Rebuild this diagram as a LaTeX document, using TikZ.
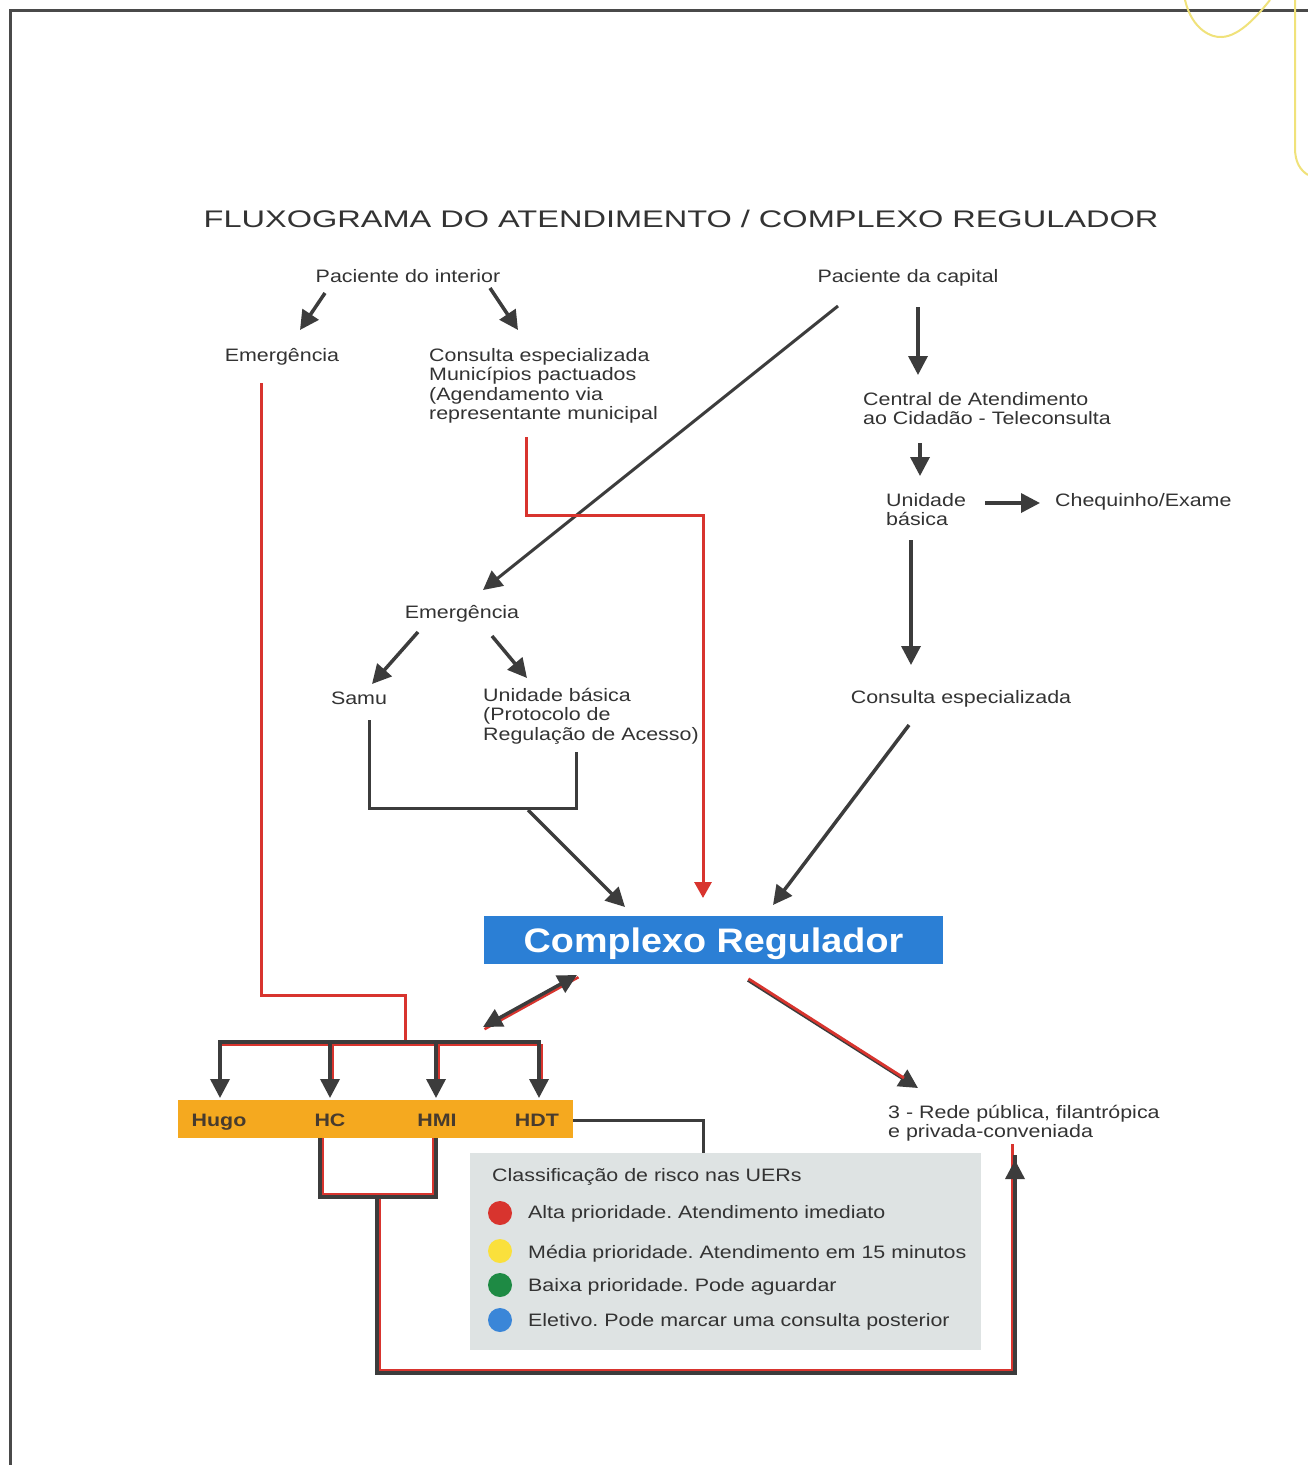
\documentclass[tikz,border=0pt]{standalone}
\usepackage{fontspec}
\setmainfont{Liberation Sans}[FakeStretch=1.19]
\newfontfamily\titlefont{Liberation Sans}[FakeStretch=1.355]
\newfontfamily\boxfont{Liberation Sans}[FakeStretch=1.11]
\usetikzlibrary{arrows.meta}
\definecolor{dk}{HTML}{3C3C3C}
\definecolor{rd}{HTML}{D8342E}
\definecolor{txtc}{HTML}{333333}
\definecolor{boxblue}{HTML}{2B7FD5}
\definecolor{orng}{HTML}{F5A91F}
\definecolor{lgray}{HTML}{DEE3E3}
\definecolor{ylw}{HTML}{F0E27A}
\definecolor{frm}{HTML}{4A4A4A}
\frenchspacing
\begin{document}
\begin{tikzpicture}[x=1pt,y=-1pt,
  txt/.style={inner sep=0pt, text=txtc, font=\fontsize{18}{19.5}\selectfont},
  mtxt/.style={txt, align=left, anchor=north west},
  arr/.style={draw=dk, line width=3.5pt, -{Triangle[length=19pt,width=19pt]}},
  dkline/.style={draw=dk, line width=3.5pt},
  rdline/.style={draw=rd, line width=3pt},
  rdarr/.style={draw=rd, line width=3pt, -{Triangle[length=16pt,width=17pt]}},
  hosp/.style={inner sep=0pt, text=txtc!90!orange, font=\fontsize{18}{20}\selectfont\bfseries, anchor=base},
  dot/.style={circle, inner sep=0pt, minimum size=24pt}
]
\useasboundingbox (0,0) rectangle (1308,1465);
\fill[white] (0,0) rectangle (1308,1465);
% frame
\draw[frm, line width=3pt] (10,1465) -- (10,10) -- (1308,10);
% yellow decoration
\draw[ylw, line width=2pt] (1185,0) .. controls (1192,30) and (1212,38) .. (1222,37)
  .. controls (1240,36) and (1258,15) .. (1270,0);
\draw[ylw, line width=2pt] (1295,0) -- (1295,148) .. controls (1295,162) and (1300,170) .. (1308,175);

% title
\node[txt, anchor=base, font=\titlefont\fontsize{24}{28}\selectfont] (title) at (681,227)
  {FLUXOGRAMA DO ATENDIMENTO / COMPLEXO REGULADOR};

% texts
\node[txt, anchor=base] (pint) at (408,282) {Paciente do interior};
\node[txt, anchor=base] (pcap) at (908,282) {Paciente da capital};
\node[txt, anchor=base] (emg1) at (282,361) {Emergência};
\node[mtxt] (cons1) at (429,348) {Consulta especializada\\Municípios pactuados\\(Agendamento via\\representante municipal};
\node[mtxt] (central) at (863,392) {Central de Atendimento\\ao Cidadão - Teleconsulta};
\node[mtxt] (unib) at (886,493) {Unidade\\básica};
\node[txt, anchor=base west] (cheq) at (1055,506) {Chequinho/Exame};
\node[txt, anchor=base] (emg2) at (462,618) {Emergência};
\node[txt, anchor=base] (samu) at (359,704) {Samu};
\node[mtxt] (unib2) at (483,688) {Unidade básica\\(Protocolo de\\Regulação de Acesso)};
\node[txt, anchor=base] (cons2) at (961,703) {Consulta especializada};
\node[mtxt] (rede) at (888,1105) {3 - Rede pública, filantrópica\\e privada-conveniada};

% complexo regulador box
\node[fill=boxblue, inner sep=0pt, minimum width=459pt, minimum height=48pt, anchor=north west] (crbox) at (484,916) {};
\node[inner sep=0pt, anchor=base, text=white, font=\boxfont\fontsize{34}{36}\selectfont\bfseries] (crtext) at (713.5,952) {Complexo Regulador};

% orange bar
\node[fill=orng, inner sep=0pt, minimum width=395pt, minimum height=38pt, anchor=north west] (bar) at (178,1100) {};
\node[hosp] (hugo) at (219,1126) {Hugo};
\node[hosp] (hc) at (330,1126) {HC};
\node[hosp] (hmi) at (437,1126) {HMI};
\node[hosp] (hdt) at (537,1126) {HDT};

% legend
\node[fill=lgray, inner sep=0pt, minimum width=511pt, minimum height=197pt, anchor=north west] (leg) at (470,1153) {};
\node[txt, anchor=base west] (legt) at (492,1181) {Classificação de risco nas UERs};
\node[dot, fill=rd] (d1) at (500,1213) {};
\node[dot, fill={rgb,255:red,250;green,224;blue,60}] (d2) at (500,1251) {};
\node[dot, fill={rgb,255:red,30;green,138;blue,68}] (d3) at (500,1285) {};
\node[dot, fill={rgb,255:red,58;green,134;blue,216}] (d4) at (500,1320) {};
\node[txt, anchor=base west] (l1) at (528,1218) {Alta prioridade. Atendimento imediato};
\node[txt, anchor=base west] (l2) at (528,1258) {Média prioridade. Atendimento em 15 minutos};
\node[txt, anchor=base west] (l3) at (528,1291) {Baixa prioridade. Pode aguardar};
\node[txt, anchor=base west] (l4) at (528,1326) {Eletivo. Pode marcar uma consulta posterior};

% coordinates
\coordinate (pi1) at (325,293); \coordinate (pi1e) at (300,330);
\coordinate (pi2) at (490,288); \coordinate (pi2e) at (518,330);
\coordinate (dg1) at (838,306); \coordinate (dg1e) at (483,590);
\coordinate (pc1) at (918,307); \coordinate (pc1e) at (918,375);
\coordinate (ce1) at (920,443); \coordinate (ce1e) at (920,476);
\coordinate (ub1) at (985,503); \coordinate (ub1e) at (1040,503);
\coordinate (ub2) at (911,540); \coordinate (ub2e) at (911,665);
\coordinate (em1) at (418,632); \coordinate (em1e) at (372,684);
\coordinate (em2) at (492,636); \coordinate (em2e) at (527,678);
\coordinate (sb1) at (369,720); \coordinate (sb2) at (369,808);
\coordinate (sb3) at (576,808); \coordinate (sb4) at (576,752);
\coordinate (sbm) at (528,810); \coordinate (cr1) at (625,907);
\coordinate (cs1) at (909,725); \coordinate (cr2) at (773,905);
\coordinate (r1a) at (261,383); \coordinate (r1b) at (261,995);
\coordinate (r1c) at (405,995); \coordinate (r1d) at (405,1042);
\coordinate (r2a) at (526,437); \coordinate (r2b) at (526,515);
\coordinate (r2c) at (703,515); \coordinate (r2d) at (703,898);
\coordinate (db1) at (577,975); \coordinate (db2) at (483,1027);
\coordinate (rr1) at (748,980); \coordinate (rr2) at (918,1088);
\coordinate (bl) at (220,1042); \coordinate (br) at (539,1042);
\coordinate (b2) at (330,1042); \coordinate (b3) at (436,1042);
\coordinate (t1) at (220,1098); \coordinate (t2) at (330,1098);
\coordinate (t3) at (436,1098); \coordinate (t4) at (539,1098);
\coordinate (h1) at (573,1120); \coordinate (h2) at (703,1120); \coordinate (h3) at (703,1153);
\coordinate (q1) at (320,1138); \coordinate (q2) at (320,1197);
\coordinate (q3) at (436,1197); \coordinate (q4) at (436,1138);
\coordinate (q5) at (377,1197); \coordinate (q6) at (377,1373);
\coordinate (q7) at (1015,1373); \coordinate (q8) at (1015,1160);

% dark arrows
\draw[arr] (pi1) -- (pi1e);
\draw[arr] (pi2) -- (pi2e);
\draw[arr, line width=3pt] (dg1) -- (dg1e);
\draw[arr] (pc1) -- (pc1e);
\draw[arr] (ce1) -- (ce1e);
\draw[arr] (ub1) -- (ub1e);
\draw[arr] (ub2) -- (ub2e);
\draw[arr] (em1) -- (em1e);
\draw[arr] (em2) -- (em2e);
\draw[dkline, line width=3pt] (sb1) -- (sb2) -- (sb3) -- (sb4);
\draw[arr] (sbm) -- (cr1);
\draw[arr] (cs1) -- (cr2);

% red lines
\draw[rdline] (r1a) -- (r1b) -- (r1c) -- (r1d);
\draw[rdarr] (r2a) -- (r2b) -- (r2c) -- (r2d);

% double arrow
\draw[rdline, line width=2.5pt] ([shift={(1.5,2.2)}]db1) -- ([shift={(1.5,2.2)}]db2);
\draw[arr, {Triangle[length=19pt,width=19pt]}-{Triangle[length=19pt,width=19pt]}] (db1) -- (db2);

% box -> rede
\draw[arr] (rr1) -- (rr2);
\draw[rdline, line width=2.8pt] ([shift={(0.5,-1.2)}]rr1) -- ([shift={(-14,-10)}]rr2);

% top distribution bar
\draw[rdline] ([shift={(2.4,2.4)}]bl) -- ([shift={(2.4,2.4)}]br);
\draw[rdline] ([shift={(2.4,2.4)}]b2) -- ([shift={(2.4,-16)}]t2);
\draw[rdline] ([shift={(2.4,2.4)}]b3) -- ([shift={(2.4,-16)}]t3);
\draw[rdline] ([shift={(2.4,2.4)}]br) -- ([shift={(2.4,-16)}]t4);
\draw[dkline] ([xshift=-1.75pt]bl) -- ([xshift=1.75pt]br);
\draw[arr] (bl) -- (t1);
\draw[arr] (b2) -- (t2);
\draw[arr] (b3) -- (t3);
\draw[arr] (br) -- (t4);

% HDT -> legend
\draw[dkline, line width=3pt] (h1) -- (h2) -- (h3);

% bottom bracket
\draw[rdline] ([shift={(2.4,0)}]q1) -- ([shift={(2.4,-2.4)}]q2) -- ([shift={(-2.4,-2.4)}]q3) -- ([shift={(-2.4,0)}]q4);
\draw[rdline] ([shift={(2.4,0)}]q5) -- ([shift={(2.4,-2.4)}]q6) -- ([shift={(-2.4,-2.4)}]q7) -- ([shift={(-2.4,-16)}]q8);
\draw[dkline] (q1) -- (q2) -- (q3) -- (q4);
\draw[dkline] (q5) -- (q6) -- (q7) -- ([yshift=5pt]q8);
\draw[arr] (q7) -- (q8);
\end{tikzpicture}
\end{document}
